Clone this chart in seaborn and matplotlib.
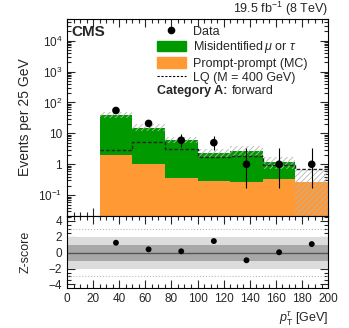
import numpy as np
import matplotlib
matplotlib.use("Agg")
import matplotlib.pyplot as plt
import matplotlib.patches as mpatches
import matplotlib.lines as mlines
from matplotlib.ticker import LogLocator, MultipleLocator, NullFormatter, FixedLocator, FixedFormatter
import seaborn as sns

sns.set_style("ticks")
plt.rcParams['font.family'] = ['Liberation Sans', 'DejaVu Sans']
plt.rcParams['mathtext.fontset'] = 'custom'
plt.rcParams['mathtext.rm'] = 'Liberation Sans'
plt.rcParams['mathtext.it'] = 'Liberation Sans:italic'
plt.rcParams['font.size'] = 8.5
plt.rcParams['hatch.linewidth'] = 0.6
plt.rcParams['axes.edgecolor'] = 'black'

# Data
bin_edges = [25, 50, 75, 100, 125, 150, 175, 200]
bin_centers = [37.5, 62.5, 87.5, 112.5, 137.5, 162.5, 187.5]
prompt_mc = [1.95, 1.0, 0.37, 0.28, 0.27, 0.34, 0.27]
total_bkg = [40, 15, 6.0, 2.4, 2.7, 1.2, 0.27]
bkg_down = [32, 12, 4.8, 1.7, 1.8, 0.7, 0.01]
bkg_up = [50, 20, 7.5, 3.2, 3.8, 1.7, 0.72]
lq_signal = [2.85, 5.3, 3.2, 1.7, 1.8, 0.93, 0.72]
data_counts = [55, 21, 6, 5, 1, 1, 1]
data_err_lo = [7.4, 4.6, 2.4, 2.0, 0.83, 0.83, 0.83]
data_err_hi = [8.4, 5.6, 3.6, 3.3, 2.3, 2.3, 2.3]
zscore = [1.25, 0.42, 0.17, 1.46, -0.96, 0.05, 1.08]

green = '#009900'
orange = '#ff9933'

fig = plt.figure(figsize=(3.49, 3.28), dpi=100)
ax = fig.add_axes([0.192, 0.341, 0.748, 0.601])
axr = fig.add_axes([0.192, 0.122, 0.748, 0.219], sharex=ax)

# stacked backgrounds
sns.histplot(x=bin_centers, weights=total_bkg, bins=bin_edges, element="step",
             fill=True, color=green, alpha=1, linewidth=0, ax=ax)
sns.histplot(x=bin_centers, weights=prompt_mc, bins=bin_edges, element="step",
             fill=True, color=orange, alpha=1, linewidth=0, ax=ax)

# uncertainty band
heights = np.array(bkg_up) - np.array(bkg_down)
ax.bar(bin_edges[:-1], heights, bottom=bkg_down, width=25, align='edge',
       fill=False, hatch='//////', edgecolor='#b5b5b5', linewidth=0)

# LQ signal
sns.histplot(x=bin_centers, weights=lq_signal, bins=bin_edges, element="step",
             fill=False, color='#222222', linestyle=(0, (2.5, 1.5)), linewidth=1.0, ax=ax)

# data
ax.errorbar(bin_centers, data_counts, yerr=[data_err_lo, data_err_hi], fmt='none',
            ecolor='black', elinewidth=0.8, capsize=0)
sns.scatterplot(x=bin_centers, y=data_counts, color='black', s=30, edgecolor='none', ax=ax, zorder=5)

ax.set_yscale('log')
ax.set_ylim(0.021, 5e4)
ax.set_xlim(0, 200)
ax.yaxis.set_major_locator(FixedLocator([0.1, 1, 10, 100, 1000, 10000]))
ax.yaxis.set_major_formatter(FixedFormatter(['$10^{-1}$', '1', '10', '$10^{2}$', '$10^{3}$', '$10^{4}$']))
ax.yaxis.set_minor_locator(LogLocator(base=10, subs=np.arange(2, 10), numticks=20))
ax.yaxis.set_minor_formatter(NullFormatter())
ax.set_ylabel('Events per 25 GeV', fontsize=10)
ax.set_xlabel('')
ax.tick_params(axis='x', labelbottom=False)

for a in (ax, axr):
    a.tick_params(which='both', direction='in', top=True, right=True, width=0.8)
    a.tick_params(which='major', length=6)
    a.tick_params(which='minor', length=3)
    a.xaxis.set_major_locator(MultipleLocator(20))
    a.xaxis.set_minor_locator(MultipleLocator(5))

ax.text(0.015, 0.968, 'CMS', transform=ax.transAxes, fontsize=11, fontweight='bold',
        va='top', ha='left')
fig.text(0.94, 0.946, r'19.5 fb$^{-1}$ (8 TeV)', ha='right', va='bottom', fontsize=9)

handles = [
    mlines.Line2D([], [], color='black', marker='o', markersize=4.5, linestyle='none'),
    mpatches.Patch(color=green),
    mpatches.Patch(color=orange),
    mlines.Line2D([], [], color='black', linestyle=(0, (2, 1.5)), linewidth=0.8),
]
labels = ['Data', r'Misidentified$\,\mu$ or $\tau$', 'Prompt-prompt (MC)', 'LQ (M = 400 GeV)']
ax.legend(handles, labels, loc='upper left', bbox_to_anchor=(0.325, 0.995), frameon=False,
          fontsize=9, handlelength=2.3, handleheight=0.9, labelspacing=0.15,
          borderaxespad=0, handletextpad=0.6)
ax.text(0.345, 0.635, 'Category A:', transform=ax.transAxes, fontsize=9,
        fontweight='bold', va='center')
ax.text(0.63, 0.635, 'forward', transform=ax.transAxes, fontsize=9, va='center')

# z-score panel
axr.axhspan(-2, 2, color='#dcdcdc', linewidth=0)
axr.axhspan(-1, 1, color='#a8a8a8', linewidth=0)
axr.axhline(0, color='#555555', linewidth=1)
for yv in (3, -3):
    axr.axhline(yv, color='#bbbbbb', linestyle=':', linewidth=0.8)
sns.scatterplot(x=bin_centers, y=zscore, color='black', s=18, edgecolor='none', ax=axr, zorder=5)
axr.set_ylim(-4.45, 4.6)
axr.yaxis.set_major_locator(FixedLocator([-4, -2, 0, 2, 4]))
axr.yaxis.set_minor_locator(MultipleLocator(0.5))
axr.set_ylabel('Z-score', fontsize=9)
axr.set_xlabel(r'$p_{\mathrm{T}}^{\tau}$ [GeV]', fontsize=9, loc='right')
axr.yaxis.set_label_coords(-0.135, 0.5)
ax.yaxis.set_label_coords(-0.135, 0.5)

fig.savefig('out.png', dpi=100)
